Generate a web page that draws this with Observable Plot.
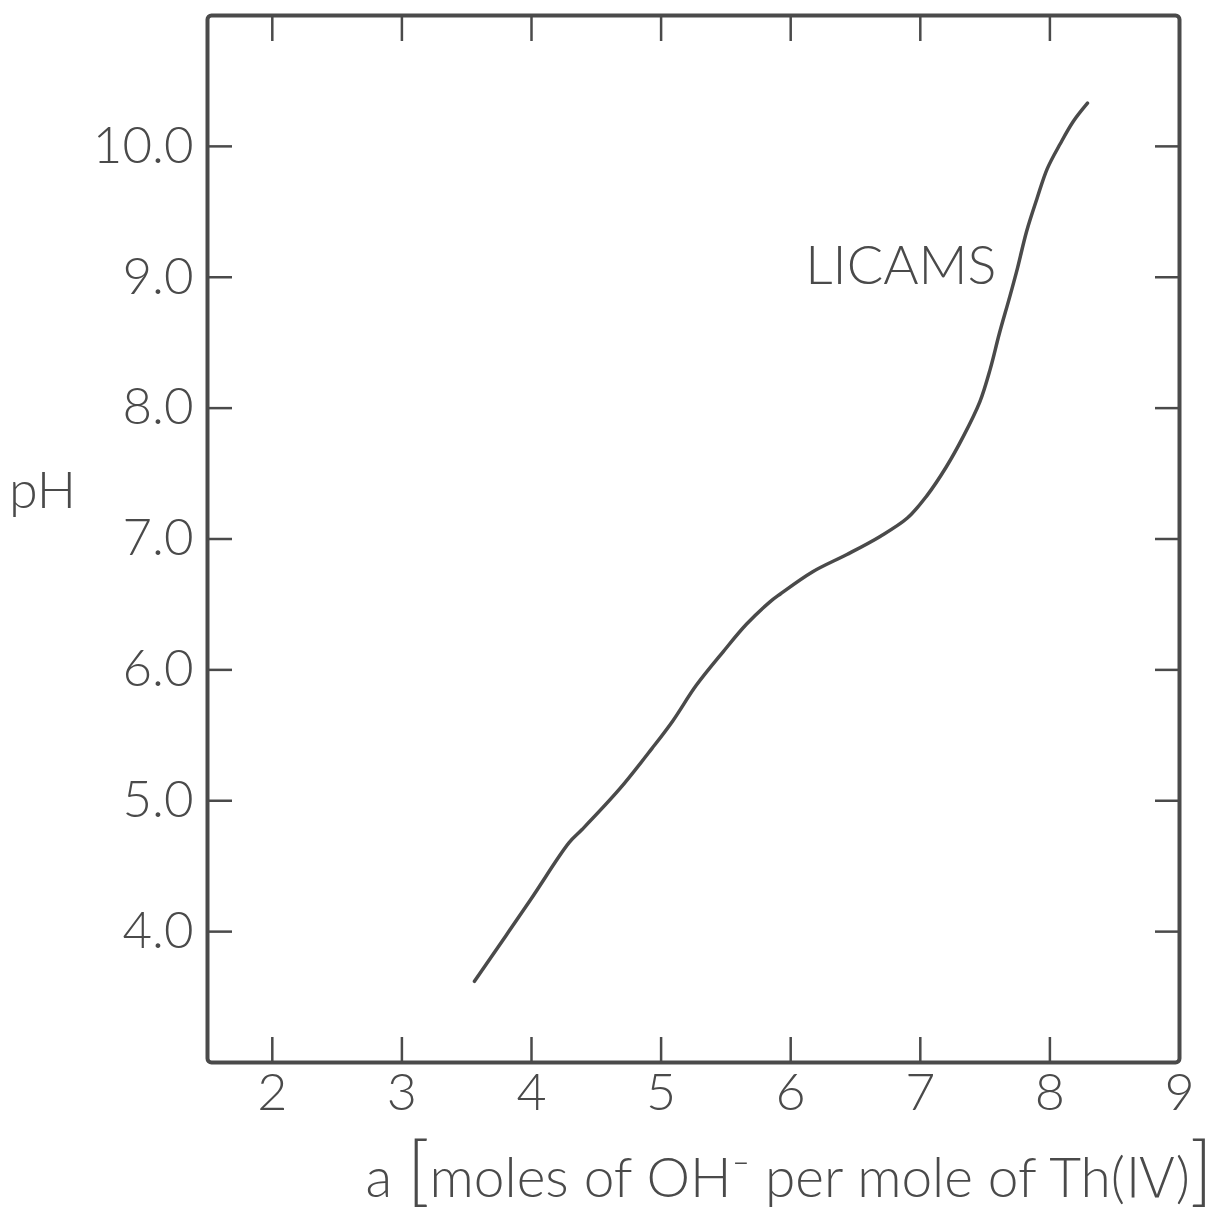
<!DOCTYPE html>
<html><head><meta charset="utf-8">
<script src="https://cdn.jsdelivr.net/npm/d3@7"></script>
<script src="https://cdn.jsdelivr.net/npm/@observablehq/plot@0.6"></script>
<style>body{margin:0;background:#fff} #chart{width:1222px;height:1213px}</style>
</head><body><div id="chart"></div>
<script>
// a [moles of OH- per mole of Th(IV)]
const aValues  = [3.56, 3.99, 4.29, 4.39, 4.68, 4.93, 5.09, 5.27, 5.48, 5.66, 5.84, 5.92, 6.17, 6.43, 6.69, 6.90, 7.05, 7.20, 7.33, 7.46, 7.54, 7.61, 7.69, 7.75, 7.82, 7.90, 7.98, 8.08, 8.18, 8.29];
// pH
const pHValues = [3.62, 4.24, 4.68, 4.78, 5.09, 5.40, 5.61, 5.88, 6.14, 6.35, 6.52, 6.58, 6.75, 6.88, 7.02, 7.16, 7.33, 7.55, 7.78, 8.05, 8.30, 8.57, 8.85, 9.07, 9.35, 9.60, 9.83, 10.02, 10.19, 10.33];
const xTickLabels = [2, 3, 4, 5, 6, 7, 8, 9];
const xTickMarks = [2, 3, 4, 5, 6, 7, 8];
const yTicks = [4, 5, 6, 7, 8, 9, 10];
const curveLabel = ["LICAMS"];
const curveLabelA = [6.85];
const curveLabelPH = [9.08];
const xTitle = "a [moles of OH⁻ per mole of Th(Ⅳ)]";
const yTitle = "pH";

const data = aValues.map((a, i) => ({a, pH: pHValues[i]}));
const labels = curveLabel.map((t, i) => ({t, a: curveLabelA[i], pH: curveLabelPH[i]}));
const ink = "#4a4a4a";
const font = "Lato, 'Open Sans', 'DejaVu Sans', sans-serif";

const chart = Plot.plot({
  width: 1222, height: 1213,
  marginLeft: 207, marginRight: 43, marginTop: 15, marginBottom: 151,
  x: {domain: [1.5, 9]},
  y: {domain: [3, 11]},
  style: {fontFamily: font, background: "#fff", color: ink},
  marks: [
    Plot.frame({stroke: ink, strokeWidth: 4, rx: 4}),
    Plot.axisX(xTickMarks, {anchor: "bottom", tickSize: -25, tickFormat: () => "", strokeWidth: 2.5, label: null}),
    Plot.axisX(xTickMarks, {anchor: "top", tickSize: -25, tickFormat: () => "", strokeWidth: 2.5, label: null}),
    Plot.axisX(xTickLabels, {anchor: "bottom", tickSize: 0, tickPadding: 11, tickFormat: d3.format("d"), fontSize: 52, fontWeight: 300, label: null}),
    Plot.axisY(yTicks, {anchor: "left", tickSize: -25, tickFormat: () => "", strokeWidth: 2.5, label: null}),
    Plot.axisY(yTicks, {anchor: "right", tickSize: -25, tickFormat: () => "", strokeWidth: 2.5, label: null}),
    Plot.axisY(yTicks, {anchor: "left", tickSize: 0, tickPadding: 14, tickFormat: d3.format(".1f"), fontSize: 51, fontWeight: 300, label: null}),
    Plot.line(data, {x: "a", y: "pH", curve: "catmull-rom", stroke: ink, strokeWidth: 3.5, strokeLinecap: "round"}),
    Plot.text(labels, {x: "a", y: "pH", text: "t", fontSize: 54, fontWeight: 300, fill: ink}),
    Plot.text([yTitle], {frameAnchor: "left", text: d => d, textAnchor: "middle", dx: -165, dy: -48, fontSize: 52, fontWeight: 300, fill: ink}),
    Plot.text([xTitle], {frameAnchor: "bottom-right", text: d => d, textAnchor: "end", dx: 33, dy: 134, fontSize: 55, fontWeight: 300, fill: ink})
  ]
});
document.getElementById("chart").appendChild(chart);

// enlarge the brackets of the x title
d3.select(chart).selectAll("text").filter(function() { return this.textContent === xTitle; })
  .each(function() {
    const t = d3.select(this);
    t.text(null);
    const parts = [["a ", null], ["[", 76], ["moles of OH", null], ["⁻", null], [" per mole of Th(Ⅳ)", null], ["]", 76]];
    for (const [s, fs] of parts) {
      const sp = t.append("tspan").text(s);
      if (fs) sp.attr("font-size", fs);
    }
  });
</script>
</body></html>
